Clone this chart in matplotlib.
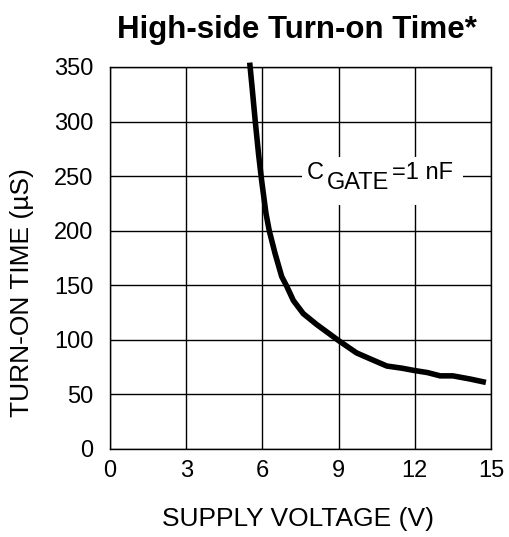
import matplotlib
matplotlib.use("Agg")
import matplotlib.pyplot as plt
from matplotlib.patches import Rectangle

plt.rcParams['font.family'] = ['Liberation Sans', 'DejaVu Sans']

# curve
supply_v = [5.5, 5.6, 5.72, 5.85, 5.97, 6.14, 6.27, 6.5, 6.76, 6.96, 7.22,
            7.61, 8.14, 9.02, 9.71, 10.3, 10.9, 11.5, 11.96, 12.5, 13.0,
            13.5, 14.2, 14.8]
turn_on_us = [354, 330, 300, 270, 246, 216, 200, 179, 158, 149, 136,
              124, 114, 99, 88, 82, 76, 74, 72, 70, 67,
              67, 64, 61]
x_ticks = [0, 3, 6, 9, 12, 15]
y_ticks = [0, 50, 100, 150, 200, 250, 300, 350]

fig = plt.figure(figsize=(5.09, 5.37), dpi=100)
ax = fig.add_axes([0.2161, 0.1639, 0.7485, 0.7114])

ax.plot(supply_v, turn_on_us, color='black', lw=4.0, solid_capstyle='butt',
        solid_joinstyle='round', clip_on=False, zorder=5)

ax.set_xlim(0, 15)
ax.set_ylim(0, 350)
ax.set_xticks(x_ticks)
ax.set_yticks(y_ticks)
ax.grid(True, color='black', lw=1.0)
ax.set_axisbelow(True)
for s in ax.spines.values():
    s.set_linewidth(1.0)
ax.tick_params(axis='both', length=0, labelsize=17)
ax.tick_params(axis='x', pad=8)
ax.tick_params(axis='y', pad=12)

# label box over the grid
ax.add_patch(Rectangle((7.56, 223.6), 6.34, 43.9, facecolor='white',
                       edgecolor='none', zorder=3))
ax.text(7.76, 247.5, 'C', fontsize=17, va='baseline', zorder=6)
ax.text(8.54, 238.5, 'GATE', fontsize=17, va='baseline', zorder=6)
ax.text(11.1, 247.0, '=1 nF', fontsize=17, va='baseline', zorder=6)

fig.text(0.584, 0.944, 'High-side Turn-on Time*', fontsize=22.5,
         fontweight='bold', ha='center', va='center')
fig.text(0.586, 0.034, 'SUPPLY VOLTAGE (V)', fontsize=19,
         ha='center', va='center')
fig.text(0.043, 0.455, 'TURN-ON TIME (\u00b5S)', fontsize=19,
         ha='center', va='center', rotation=90)

fig.savefig('out.png', dpi=100)
